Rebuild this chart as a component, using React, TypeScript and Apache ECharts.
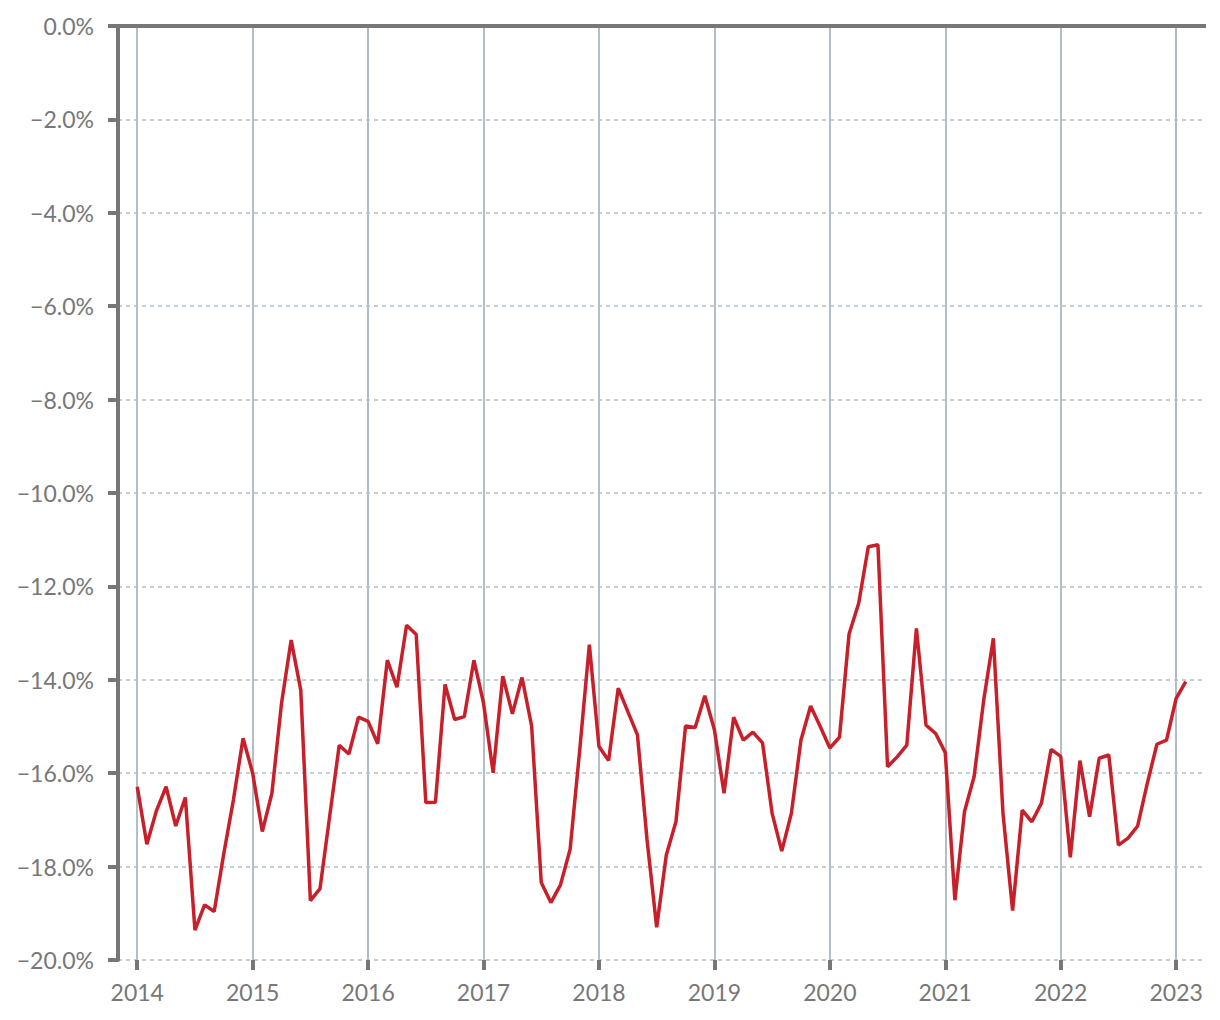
import React, { useEffect, useRef } from "react";
import * as echarts from "echarts";

const years = [2014, 2015, 2016, 2017, 2018, 2019, 2020, 2021, 2022, 2023];

const values2014 = [-16.29, -17.52, -16.8, -16.29, -17.13, -16.52, -19.36, -18.82, -18.96, -17.72, -16.57, -15.25];
const values2015 = [-16.0, -17.25, -16.43, -14.5, -13.15, -14.22, -18.73, -18.47, -16.93, -15.4, -15.59, -14.8];
const values2016 = [-14.89, -15.37, -13.58, -14.16, -12.83, -13.03, -16.63, -16.62, -14.1, -14.85, -14.79, -13.58];
const values2017 = [-14.5, -15.99, -13.92, -14.73, -13.95, -14.99, -18.34, -18.77, -18.39, -17.63, -15.5, -13.25];
const values2018 = [-15.43, -15.73, -14.18, -14.68, -15.18, -17.43, -19.3, -17.75, -17.04, -14.99, -15.02, -14.34];
const values2019 = [-15.07, -16.43, -14.8, -15.29, -15.12, -15.35, -16.86, -17.67, -16.86, -15.29, -14.56, -15.0];
const values2020 = [-15.46, -15.23, -13.02, -12.36, -11.15, -11.11, -15.86, -15.65, -15.4, -12.9, -14.97, -15.15];
const values2021 = [-15.56, -18.72, -16.82, -16.07, -14.43, -13.11, -16.86, -18.94, -16.79, -17.04, -16.64, -15.49];
const values2022 = [-15.64, -17.8, -15.73, -16.93, -15.68, -15.61, -17.54, -17.39, -17.13, -16.22, -15.38, -15.29];
const values2023 = [-14.4, -14.04];

const yTicks = [0, -2, -4, -6, -8, -10, -12, -14, -16, -18, -20];

const monthlyValues = [
  ...values2014, ...values2015, ...values2016, ...values2017, ...values2018,
  ...values2019, ...values2020, ...values2021, ...values2022, ...values2023,
];

const AXIS = "#777777";
const GRID = "#b3bec6";
const FONT = "Lato";

export default function App() {
  const ref = useRef<HTMLDivElement>(null);
  useEffect(() => {
    if (!ref.current) return;
    const chart = echarts.init(ref.current, undefined, { renderer: "svg" });
    const yearIdx = years.map((y) => (y - 2014) * 12);
    const data = monthlyValues.map((v, i) => [i, v]);
    chart.setOption({
      animation: false,
      grid: { left: 118, right: 15, top: 26, bottom: 60, containLabel: false },
      xAxis: {
        type: "value",
        min: -2,
        max: 111,
        axisLine: { show: false, onZero: false },
        splitLine: { show: true, lineStyle: { color: GRID, width: 2, type: "solid" } },
        axisTick: {
          show: true,
          customValues: yearIdx,
          length: 10,
          lineStyle: { color: AXIS, width: 4 },
        },
        axisLabel: {
          customValues: yearIdx,
          formatter: (v: number) => String(2014 + Math.round(v / 12)),
          color: AXIS,
          fontSize: 23,
          fontFamily: FONT,
          margin: 20,
        },
      },
      yAxis: {
        type: "value",
        min: -20,
        max: 0,
        interval: 2,
        axisLine: { show: true, onZero: false, lineStyle: { color: AXIS, width: 4 } },
        axisTick: { show: true, length: 10, lineStyle: { color: AXIS, width: 4 } },
        axisLabel: {
          color: AXIS,
          fontSize: 23,
          fontFamily: FONT,
          margin: 24,
          formatter: (v: number) =>
            yTicks.includes(v) && v !== 0 ? "\u2212" + Math.abs(v).toFixed(1) + "%" : "0.0%",
        },
        splitLine: { show: true, lineStyle: { color: GRID, width: 1.5, type: [4, 4] } },
      },
      graphic: [
        {
          type: "line",
          z: 100,
          shape: { x1: 108, y1: 26, x2: 1206, y2: 26 },
          style: { stroke: AXIS, lineWidth: 4 },
          silent: true,
        },
      ],
      series: [
        {
          type: "line",
          data,
          z: 3,
          symbol: "none",
          lineStyle: { color: "#c8202a", width: 3.5 },
        },
      ],
    });
    return () => chart.dispose();
  }, []);
  return (
    <div
      ref={ref}
      style={{ position: "fixed", left: 0, top: 0, width: 1220, height: 1020, background: "#fff" }}
    />
  );
}
